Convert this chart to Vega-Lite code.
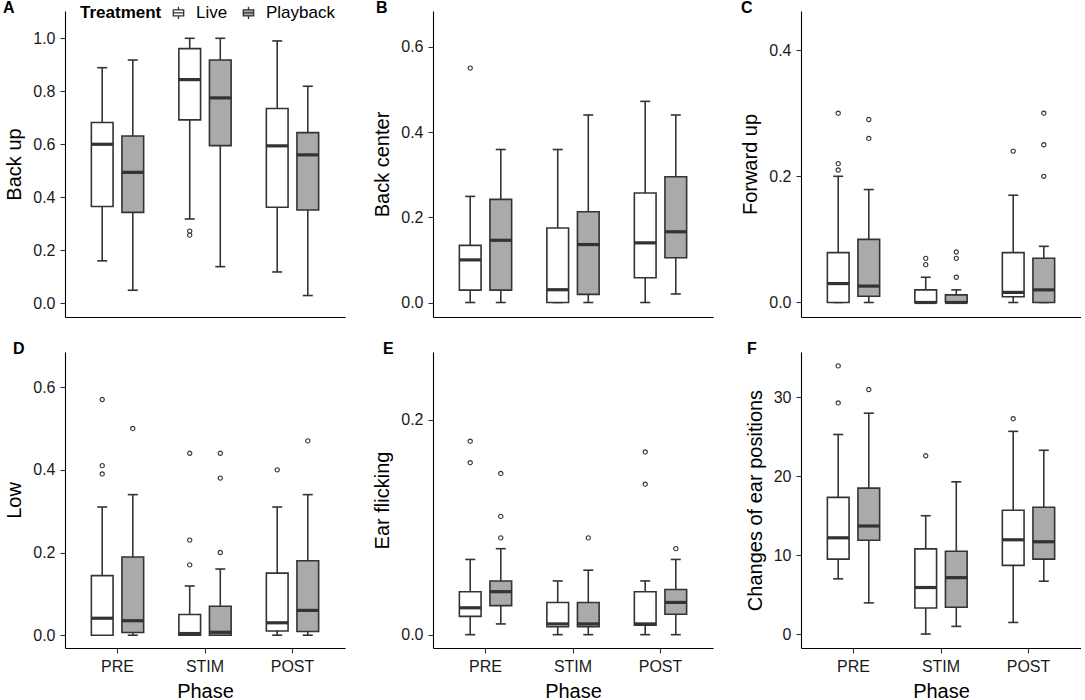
{
  "$schema": "https://vega.github.io/schema/vega-lite/v6.json",
  "padding": {"left": 3, "top": 0, "right": 0, "bottom": 0},
  "datasets": {
    "boxes": [
      {"panel": "A", "phase": "PRE", "trt": "Live", "lo": 0.16, "q1": 0.365, "med": 0.6, "q3": 0.682, "hi": 0.889},
      {"panel": "A", "phase": "PRE", "trt": "Playback", "lo": 0.049, "q1": 0.343, "med": 0.494, "q3": 0.631, "hi": 0.918},
      {"panel": "A", "phase": "STIM", "trt": "Live", "lo": 0.318, "q1": 0.692, "med": 0.844, "q3": 0.961, "hi": 1.0},
      {"panel": "A", "phase": "STIM", "trt": "Playback", "lo": 0.138, "q1": 0.595, "med": 0.775, "q3": 0.918, "hi": 1.0},
      {"panel": "A", "phase": "POST", "trt": "Live", "lo": 0.118, "q1": 0.362, "med": 0.594, "q3": 0.735, "hi": 0.99},
      {"panel": "A", "phase": "POST", "trt": "Playback", "lo": 0.029, "q1": 0.352, "med": 0.56, "q3": 0.644, "hi": 0.819},
      {"panel": "B", "phase": "PRE", "trt": "Live", "lo": 0, "q1": 0.029, "med": 0.1, "q3": 0.134, "hi": 0.249},
      {"panel": "B", "phase": "PRE", "trt": "Playback", "lo": 0, "q1": 0.029, "med": 0.146, "q3": 0.242, "hi": 0.359},
      {"panel": "B", "phase": "STIM", "trt": "Live", "lo": 0, "q1": 0, "med": 0.03, "q3": 0.175, "hi": 0.359},
      {"panel": "B", "phase": "STIM", "trt": "Playback", "lo": 0, "q1": 0.019, "med": 0.136, "q3": 0.213, "hi": 0.44},
      {"panel": "B", "phase": "POST", "trt": "Live", "lo": 0, "q1": 0.058, "med": 0.14, "q3": 0.257, "hi": 0.472},
      {"panel": "B", "phase": "POST", "trt": "Playback", "lo": 0.02, "q1": 0.105, "med": 0.166, "q3": 0.295, "hi": 0.44},
      {"panel": "C", "phase": "PRE", "trt": "Live", "lo": 0, "q1": 0, "med": 0.03, "q3": 0.079, "hi": 0.2},
      {"panel": "C", "phase": "PRE", "trt": "Playback", "lo": 0, "q1": 0.01, "med": 0.026, "q3": 0.1, "hi": 0.179},
      {"panel": "C", "phase": "STIM", "trt": "Live", "lo": 0, "q1": 0, "med": 0, "q3": 0.02, "hi": 0.04},
      {"panel": "C", "phase": "STIM", "trt": "Playback", "lo": 0, "q1": 0, "med": 0, "q3": 0.012, "hi": 0.02},
      {"panel": "C", "phase": "POST", "trt": "Live", "lo": 0, "q1": 0.009, "med": 0.016, "q3": 0.079, "hi": 0.17},
      {"panel": "C", "phase": "POST", "trt": "Playback", "lo": 0, "q1": 0, "med": 0.02, "q3": 0.07, "hi": 0.089},
      {"panel": "D", "phase": "PRE", "trt": "Live", "lo": 0, "q1": 0, "med": 0.041, "q3": 0.144, "hi": 0.31},
      {"panel": "D", "phase": "PRE", "trt": "Playback", "lo": 0, "q1": 0.0064, "med": 0.035, "q3": 0.189, "hi": 0.34},
      {"panel": "D", "phase": "STIM", "trt": "Live", "lo": 0, "q1": 0, "med": 0.004, "q3": 0.05, "hi": 0.119},
      {"panel": "D", "phase": "STIM", "trt": "Playback", "lo": 0, "q1": 0, "med": 0.007, "q3": 0.07, "hi": 0.16},
      {"panel": "D", "phase": "POST", "trt": "Live", "lo": 0, "q1": 0.01, "med": 0.03, "q3": 0.15, "hi": 0.31},
      {"panel": "D", "phase": "POST", "trt": "Playback", "lo": 0, "q1": 0.009, "med": 0.06, "q3": 0.18, "hi": 0.34},
      {"panel": "E", "phase": "PRE", "trt": "Live", "lo": 0, "q1": 0.017, "med": 0.025, "q3": 0.04, "hi": 0.07},
      {"panel": "E", "phase": "PRE", "trt": "Playback", "lo": 0.01, "q1": 0.027, "med": 0.04, "q3": 0.05, "hi": 0.08},
      {"panel": "E", "phase": "STIM", "trt": "Live", "lo": 0, "q1": 0.0074, "med": 0.01, "q3": 0.03, "hi": 0.05},
      {"panel": "E", "phase": "STIM", "trt": "Playback", "lo": 0, "q1": 0.0074, "med": 0.01, "q3": 0.03, "hi": 0.06},
      {"panel": "E", "phase": "POST", "trt": "Live", "lo": 0, "q1": 0.0087, "med": 0.01, "q3": 0.04, "hi": 0.05},
      {"panel": "E", "phase": "POST", "trt": "Playback", "lo": 0, "q1": 0.019, "med": 0.03, "q3": 0.042, "hi": 0.07},
      {"panel": "F", "phase": "PRE", "trt": "Live", "lo": 7.0, "q1": 9.5, "med": 12.2, "q3": 17.33, "hi": 25.3},
      {"panel": "F", "phase": "PRE", "trt": "Playback", "lo": 3.95, "q1": 11.9, "med": 13.7, "q3": 18.5, "hi": 28.0},
      {"panel": "F", "phase": "STIM", "trt": "Live", "lo": 0, "q1": 3.3, "med": 5.9, "q3": 10.8, "hi": 15.0},
      {"panel": "F", "phase": "STIM", "trt": "Playback", "lo": 0.97, "q1": 3.4, "med": 7.15, "q3": 10.5, "hi": 19.3},
      {"panel": "F", "phase": "POST", "trt": "Live", "lo": 1.47, "q1": 8.7, "med": 11.95, "q3": 15.7, "hi": 25.7},
      {"panel": "F", "phase": "POST", "trt": "Playback", "lo": 6.7, "q1": 9.5, "med": 11.7, "q3": 16.07, "hi": 23.3}
    ],
    "outliers": [
      {"panel": "A", "phase": "STIM", "trt": "Live", "out": 0.272},
      {"panel": "A", "phase": "STIM", "trt": "Live", "out": 0.257},
      {"panel": "B", "phase": "PRE", "trt": "Live", "out": 0.55},
      {"panel": "C", "phase": "PRE", "trt": "Live", "out": 0.3},
      {"panel": "C", "phase": "PRE", "trt": "Live", "out": 0.22},
      {"panel": "C", "phase": "PRE", "trt": "Live", "out": 0.21},
      {"panel": "C", "phase": "PRE", "trt": "Playback", "out": 0.29},
      {"panel": "C", "phase": "PRE", "trt": "Playback", "out": 0.26},
      {"panel": "C", "phase": "STIM", "trt": "Live", "out": 0.07},
      {"panel": "C", "phase": "STIM", "trt": "Live", "out": 0.06},
      {"panel": "C", "phase": "STIM", "trt": "Playback", "out": 0.08},
      {"panel": "C", "phase": "STIM", "trt": "Playback", "out": 0.07},
      {"panel": "C", "phase": "STIM", "trt": "Playback", "out": 0.04},
      {"panel": "C", "phase": "POST", "trt": "Live", "out": 0.24},
      {"panel": "C", "phase": "POST", "trt": "Playback", "out": 0.3},
      {"panel": "C", "phase": "POST", "trt": "Playback", "out": 0.25},
      {"panel": "C", "phase": "POST", "trt": "Playback", "out": 0.2},
      {"panel": "D", "phase": "PRE", "trt": "Live", "out": 0.57},
      {"panel": "D", "phase": "PRE", "trt": "Live", "out": 0.41},
      {"panel": "D", "phase": "PRE", "trt": "Live", "out": 0.39},
      {"panel": "D", "phase": "PRE", "trt": "Playback", "out": 0.5},
      {"panel": "D", "phase": "STIM", "trt": "Live", "out": 0.44},
      {"panel": "D", "phase": "STIM", "trt": "Live", "out": 0.23},
      {"panel": "D", "phase": "STIM", "trt": "Live", "out": 0.17},
      {"panel": "D", "phase": "STIM", "trt": "Playback", "out": 0.44},
      {"panel": "D", "phase": "STIM", "trt": "Playback", "out": 0.38},
      {"panel": "D", "phase": "STIM", "trt": "Playback", "out": 0.2},
      {"panel": "D", "phase": "POST", "trt": "Live", "out": 0.4},
      {"panel": "D", "phase": "POST", "trt": "Playback", "out": 0.47},
      {"panel": "E", "phase": "PRE", "trt": "Live", "out": 0.18},
      {"panel": "E", "phase": "PRE", "trt": "Live", "out": 0.16},
      {"panel": "E", "phase": "PRE", "trt": "Playback", "out": 0.15},
      {"panel": "E", "phase": "PRE", "trt": "Playback", "out": 0.11},
      {"panel": "E", "phase": "PRE", "trt": "Playback", "out": 0.09},
      {"panel": "E", "phase": "STIM", "trt": "Playback", "out": 0.09},
      {"panel": "E", "phase": "POST", "trt": "Live", "out": 0.17},
      {"panel": "E", "phase": "POST", "trt": "Live", "out": 0.14},
      {"panel": "E", "phase": "POST", "trt": "Playback", "out": 0.08},
      {"panel": "F", "phase": "PRE", "trt": "Live", "out": 34.0},
      {"panel": "F", "phase": "PRE", "trt": "Live", "out": 29.3},
      {"panel": "F", "phase": "PRE", "trt": "Playback", "out": 31.0},
      {"panel": "F", "phase": "STIM", "trt": "Live", "out": 22.6},
      {"panel": "F", "phase": "POST", "trt": "Live", "out": 27.3}
    ]
  },
  "columns": 3,
  "spacing": {"row": 35, "column": 88},
  "bounds": "flush",
  "align": "each",
  "concat": [
    {
      "width": 280, "height": 306,
      "title": {"text": "A", "dx": -62},
      "encoding": {
        "x": {"field": "phase", "type": "nominal", "sort": ["PRE", "STIM", "POST"], "scale": {"paddingInner": 0, "paddingOuter": 0.1}, "axis": {"labels": false, "ticks": false, "title": null}},
        "xOffset": {"field": "trt", "type": "nominal", "sort": ["Live", "Playback"], "scale": {"paddingInner": 0.29, "paddingOuter": 0.576}}
      },
      "layer": [
        {
          "data": {"name": "boxes"},
          "transform": [{"filter": "datum.panel === 'A'"}],
          "layer": [
            {"mark": {"type": "rule", "color": "#333", "strokeWidth": 1.6},
             "encoding": {"y": {"field": "lo", "type": "quantitative", "title": "Back up", "scale": {"domain": [-0.052, 1.103], "nice": false, "zero": false}, "axis": {"values": [0, 0.2, 0.4, 0.6, 0.8, 1], "format": ".1f"}}, "y2": {"field": "hi"}}},
            {"transform": [{"fold": ["lo", "hi"], "as": ["k", "v"]}],
             "mark": {"type": "tick", "color": "#333", "size": 10, "thickness": 1.6, "opacity": 1},
             "encoding": {"y": {"field": "v", "type": "quantitative", "scale": {"domain": [-0.052, 1.103], "nice": false, "zero": false}}}},
            {"mark": {"type": "bar", "stroke": "#333", "strokeWidth": 1.6, "opacity": 1},
             "encoding": {"y": {"field": "q1", "type": "quantitative", "scale": {"domain": [-0.052, 1.103], "nice": false, "zero": false}}, "y2": {"field": "q3"},
               "fill": {"field": "trt", "type": "nominal", "title": "Treatment", "sort": ["Live", "Playback"], "scale": {"domain": ["Live", "Playback"], "range": ["#ffffff", "#aaaaaa"]}}}},
            {"mark": {"type": "tick", "color": "#333", "size": 22, "thickness": 3.2, "opacity": 1},
             "encoding": {"y": {"field": "med", "type": "quantitative", "scale": {"domain": [-0.052, 1.103], "nice": false, "zero": false}}}}
          ]
        },
        {
          "data": {"name": "outliers"},
          "transform": [{"filter": "datum.panel === 'A'"}],
          "mark": {"type": "point", "filled": false, "color": "#333", "size": 18, "strokeWidth": 1.1, "opacity": 1},
          "encoding": {"y": {"field": "out", "type": "quantitative", "scale": {"domain": [-0.052, 1.103], "nice": false, "zero": false}}}
        }
      ]
    },
    {
      "width": 280, "height": 306,
      "title": {"text": "B", "dx": -57},
      "encoding": {
        "x": {"field": "phase", "type": "nominal", "sort": ["PRE", "STIM", "POST"], "scale": {"paddingInner": 0, "paddingOuter": 0.1}, "axis": {"labels": false, "ticks": false, "title": null}},
        "xOffset": {"field": "trt", "type": "nominal", "sort": ["Live", "Playback"], "scale": {"paddingInner": 0.29, "paddingOuter": 0.576}}
      },
      "layer": [
        {
          "data": {"name": "boxes"},
          "transform": [{"filter": "datum.panel === 'B'"}],
          "layer": [
            {"mark": {"type": "rule", "color": "#333", "strokeWidth": 1.6},
             "encoding": {"y": {"field": "lo", "type": "quantitative", "title": "Back center", "scale": {"domain": [-0.034, 0.684], "nice": false, "zero": false}, "axis": {"values": [0, 0.2, 0.4, 0.6], "format": ".1f"}}, "y2": {"field": "hi"}}},
            {"transform": [{"fold": ["lo", "hi"], "as": ["k", "v"]}],
             "mark": {"type": "tick", "color": "#333", "size": 10, "thickness": 1.6, "opacity": 1},
             "encoding": {"y": {"field": "v", "type": "quantitative", "scale": {"domain": [-0.034, 0.684], "nice": false, "zero": false}}}},
            {"mark": {"type": "bar", "stroke": "#333", "strokeWidth": 1.6, "opacity": 1},
             "encoding": {"y": {"field": "q1", "type": "quantitative", "scale": {"domain": [-0.034, 0.684], "nice": false, "zero": false}}, "y2": {"field": "q3"},
               "fill": {"field": "trt", "type": "nominal", "title": "Treatment", "sort": ["Live", "Playback"], "scale": {"domain": ["Live", "Playback"], "range": ["#ffffff", "#aaaaaa"]}}}},
            {"mark": {"type": "tick", "color": "#333", "size": 22, "thickness": 3.2, "opacity": 1},
             "encoding": {"y": {"field": "med", "type": "quantitative", "scale": {"domain": [-0.034, 0.684], "nice": false, "zero": false}}}}
          ]
        },
        {
          "data": {"name": "outliers"},
          "transform": [{"filter": "datum.panel === 'B'"}],
          "mark": {"type": "point", "filled": false, "color": "#333", "size": 18, "strokeWidth": 1.1, "opacity": 1},
          "encoding": {"y": {"field": "out", "type": "quantitative", "scale": {"domain": [-0.034, 0.684], "nice": false, "zero": false}}}
        }
      ]
    },
    {
      "width": 280, "height": 306,
      "title": {"text": "C", "dx": -60},
      "encoding": {
        "x": {"field": "phase", "type": "nominal", "sort": ["PRE", "STIM", "POST"], "scale": {"paddingInner": 0, "paddingOuter": 0.1}, "axis": {"labels": false, "ticks": false, "title": null}},
        "xOffset": {"field": "trt", "type": "nominal", "sort": ["Live", "Playback"], "scale": {"paddingInner": 0.29, "paddingOuter": 0.576}}
      },
      "layer": [
        {
          "data": {"name": "boxes"},
          "transform": [{"filter": "datum.panel === 'C'"}],
          "layer": [
            {"mark": {"type": "rule", "color": "#333", "strokeWidth": 1.6},
             "encoding": {"y": {"field": "lo", "type": "quantitative", "title": "Forward up", "scale": {"domain": [-0.023, 0.462], "nice": false, "zero": false}, "axis": {"values": [0, 0.2, 0.4], "format": ".1f"}}, "y2": {"field": "hi"}}},
            {"transform": [{"fold": ["lo", "hi"], "as": ["k", "v"]}],
             "mark": {"type": "tick", "color": "#333", "size": 10, "thickness": 1.6, "opacity": 1},
             "encoding": {"y": {"field": "v", "type": "quantitative", "scale": {"domain": [-0.023, 0.462], "nice": false, "zero": false}}}},
            {"mark": {"type": "bar", "stroke": "#333", "strokeWidth": 1.6, "opacity": 1},
             "encoding": {"y": {"field": "q1", "type": "quantitative", "scale": {"domain": [-0.023, 0.462], "nice": false, "zero": false}}, "y2": {"field": "q3"},
               "fill": {"field": "trt", "type": "nominal", "title": "Treatment", "sort": ["Live", "Playback"], "scale": {"domain": ["Live", "Playback"], "range": ["#ffffff", "#aaaaaa"]}}}},
            {"mark": {"type": "tick", "color": "#333", "size": 22, "thickness": 3.2, "opacity": 1},
             "encoding": {"y": {"field": "med", "type": "quantitative", "scale": {"domain": [-0.023, 0.462], "nice": false, "zero": false}}}}
          ]
        },
        {
          "data": {"name": "outliers"},
          "transform": [{"filter": "datum.panel === 'C'"}],
          "mark": {"type": "point", "filled": false, "color": "#333", "size": 18, "strokeWidth": 1.1, "opacity": 1},
          "encoding": {"y": {"field": "out", "type": "quantitative", "scale": {"domain": [-0.023, 0.462], "nice": false, "zero": false}}}
        }
      ]
    },
    {
      "width": 280, "height": 296,
      "title": {"text": "D", "dx": -52},
      "encoding": {
        "x": {"field": "phase", "type": "nominal", "sort": ["PRE", "STIM", "POST"], "scale": {"paddingInner": 0, "paddingOuter": 0.1}, "axis": {"title": "Phase"}},
        "xOffset": {"field": "trt", "type": "nominal", "sort": ["Live", "Playback"], "scale": {"paddingInner": 0.29, "paddingOuter": 0.576}}
      },
      "layer": [
        {
          "data": {"name": "boxes"},
          "transform": [{"filter": "datum.panel === 'D'"}],
          "layer": [
            {"mark": {"type": "rule", "color": "#333", "strokeWidth": 1.6},
             "encoding": {"y": {"field": "lo", "type": "quantitative", "title": "Low", "scale": {"domain": [-0.031, 0.685], "nice": false, "zero": false}, "axis": {"values": [0, 0.2, 0.4, 0.6], "format": ".1f"}}, "y2": {"field": "hi"}}},
            {"transform": [{"fold": ["lo", "hi"], "as": ["k", "v"]}],
             "mark": {"type": "tick", "color": "#333", "size": 10, "thickness": 1.6, "opacity": 1},
             "encoding": {"y": {"field": "v", "type": "quantitative", "scale": {"domain": [-0.031, 0.685], "nice": false, "zero": false}}}},
            {"mark": {"type": "bar", "stroke": "#333", "strokeWidth": 1.6, "opacity": 1},
             "encoding": {"y": {"field": "q1", "type": "quantitative", "scale": {"domain": [-0.031, 0.685], "nice": false, "zero": false}}, "y2": {"field": "q3"},
               "fill": {"field": "trt", "type": "nominal", "title": "Treatment", "sort": ["Live", "Playback"], "scale": {"domain": ["Live", "Playback"], "range": ["#ffffff", "#aaaaaa"]}}}},
            {"mark": {"type": "tick", "color": "#333", "size": 22, "thickness": 3.2, "opacity": 1},
             "encoding": {"y": {"field": "med", "type": "quantitative", "scale": {"domain": [-0.031, 0.685], "nice": false, "zero": false}}}}
          ]
        },
        {
          "data": {"name": "outliers"},
          "transform": [{"filter": "datum.panel === 'D'"}],
          "mark": {"type": "point", "filled": false, "color": "#333", "size": 18, "strokeWidth": 1.1, "opacity": 1},
          "encoding": {"y": {"field": "out", "type": "quantitative", "scale": {"domain": [-0.031, 0.685], "nice": false, "zero": false}}}
        }
      ]
    },
    {
      "width": 280, "height": 296,
      "title": {"text": "E", "dx": -50},
      "encoding": {
        "x": {"field": "phase", "type": "nominal", "sort": ["PRE", "STIM", "POST"], "scale": {"paddingInner": 0, "paddingOuter": 0.1}, "axis": {"title": "Phase"}},
        "xOffset": {"field": "trt", "type": "nominal", "sort": ["Live", "Playback"], "scale": {"paddingInner": 0.29, "paddingOuter": 0.576}}
      },
      "layer": [
        {
          "data": {"name": "boxes"},
          "transform": [{"filter": "datum.panel === 'E'"}],
          "layer": [
            {"mark": {"type": "rule", "color": "#333", "strokeWidth": 1.6},
             "encoding": {"y": {"field": "lo", "type": "quantitative", "title": "Ear flicking", "scale": {"domain": [-0.0124, 0.263], "nice": false, "zero": false}, "axis": {"values": [0, 0.2], "format": ".1f"}}, "y2": {"field": "hi"}}},
            {"transform": [{"fold": ["lo", "hi"], "as": ["k", "v"]}],
             "mark": {"type": "tick", "color": "#333", "size": 10, "thickness": 1.6, "opacity": 1},
             "encoding": {"y": {"field": "v", "type": "quantitative", "scale": {"domain": [-0.0124, 0.263], "nice": false, "zero": false}}}},
            {"mark": {"type": "bar", "stroke": "#333", "strokeWidth": 1.6, "opacity": 1},
             "encoding": {"y": {"field": "q1", "type": "quantitative", "scale": {"domain": [-0.0124, 0.263], "nice": false, "zero": false}}, "y2": {"field": "q3"},
               "fill": {"field": "trt", "type": "nominal", "title": "Treatment", "sort": ["Live", "Playback"], "scale": {"domain": ["Live", "Playback"], "range": ["#ffffff", "#aaaaaa"]}}}},
            {"mark": {"type": "tick", "color": "#333", "size": 22, "thickness": 3.2, "opacity": 1},
             "encoding": {"y": {"field": "med", "type": "quantitative", "scale": {"domain": [-0.0124, 0.263], "nice": false, "zero": false}}}}
          ]
        },
        {
          "data": {"name": "outliers"},
          "transform": [{"filter": "datum.panel === 'E'"}],
          "mark": {"type": "point", "filled": false, "color": "#333", "size": 18, "strokeWidth": 1.1, "opacity": 1},
          "encoding": {"y": {"field": "out", "type": "quantitative", "scale": {"domain": [-0.0124, 0.263], "nice": false, "zero": false}}}
        }
      ]
    },
    {
      "width": 280, "height": 296,
      "title": {"text": "F", "dx": -54},
      "encoding": {
        "x": {"field": "phase", "type": "nominal", "sort": ["PRE", "STIM", "POST"], "scale": {"paddingInner": 0, "paddingOuter": 0.1}, "axis": {"title": "Phase"}},
        "xOffset": {"field": "trt", "type": "nominal", "sort": ["Live", "Playback"], "scale": {"paddingInner": 0.29, "paddingOuter": 0.576}}
      },
      "layer": [
        {
          "data": {"name": "boxes"},
          "transform": [{"filter": "datum.panel === 'F'"}],
          "layer": [
            {"mark": {"type": "rule", "color": "#333", "strokeWidth": 1.6},
             "encoding": {"y": {"field": "lo", "type": "quantitative", "title": "Changes of ear positions", "scale": {"domain": [-1.77, 35.76], "nice": false, "zero": false}, "axis": {"values": [0, 10, 20, 30], "format": "d"}}, "y2": {"field": "hi"}}},
            {"transform": [{"fold": ["lo", "hi"], "as": ["k", "v"]}],
             "mark": {"type": "tick", "color": "#333", "size": 10, "thickness": 1.6, "opacity": 1},
             "encoding": {"y": {"field": "v", "type": "quantitative", "scale": {"domain": [-1.77, 35.76], "nice": false, "zero": false}}}},
            {"mark": {"type": "bar", "stroke": "#333", "strokeWidth": 1.6, "opacity": 1},
             "encoding": {"y": {"field": "q1", "type": "quantitative", "scale": {"domain": [-1.77, 35.76], "nice": false, "zero": false}}, "y2": {"field": "q3"},
               "fill": {"field": "trt", "type": "nominal", "title": "Treatment", "sort": ["Live", "Playback"], "scale": {"domain": ["Live", "Playback"], "range": ["#ffffff", "#aaaaaa"]}}}},
            {"mark": {"type": "tick", "color": "#333", "size": 22, "thickness": 3.2, "opacity": 1},
             "encoding": {"y": {"field": "med", "type": "quantitative", "scale": {"domain": [-1.77, 35.76], "nice": false, "zero": false}}}}
          ]
        },
        {
          "data": {"name": "outliers"},
          "transform": [{"filter": "datum.panel === 'F'"}],
          "mark": {"type": "point", "filled": false, "color": "#333", "size": 18, "strokeWidth": 1.1, "opacity": 1},
          "encoding": {"y": {"field": "out", "type": "quantitative", "scale": {"domain": [-1.77, 35.76], "nice": false, "zero": false}}}
        }
      ]
    }
  ],
  "config": {
    "view": {"stroke": null},
    "font": "Liberation Sans",
    "axis": {
      "grid": false,
      "domainColor": "#000",
      "domainWidth": 1.1,
      "tickColor": "#333",
      "tickSize": 5,
      "tickWidth": 1.1,
      "labelFont": "Liberation Sans",
      "labelFontSize": 16,
      "labelColor": "#1a1a1a",
      "labelPadding": 5,
      "titleFont": "Liberation Sans",
      "titleFontSize": 20,
      "titleFontWeight": "normal",
      "titleColor": "#000"
    },
    "axisY": {"titlePadding": 8},
    "axisX": {"labelAngle": 0, "titlePadding": 7},
    "title": {"anchor": "start", "frame": "group", "fontSize": 16, "fontWeight": "bold", "font": "Liberation Sans", "color": "#000", "offset": -5, "baseline": "alphabetic"},
    "legend": {
      "orient": "none",
      "legendX": 15,
      "legendY": -7,
      "direction": "horizontal",
      "titleOrient": "left",
      "titleFont": "Liberation Sans",
      "titleFontSize": 17,
      "titleFontWeight": "bold",
      "titleColor": "#000",
      "titlePadding": 8,
      "labelFont": "Liberation Sans",
      "labelFontSize": 17,
      "labelColor": "#000",
      "labelOffset": 9,
      "columnPadding": 12,
      "symbolType": "M0,-1V-0.5M-0.85,-0.5H0.85V0.5H-0.85ZM-0.85,0H0.85M0,0.5V1",
      "symbolSize": 150,
      "symbolStrokeColor": "#333",
      "symbolStrokeWidth": 1.3,
      "symbolOpacity": 1
    }
  }
}
